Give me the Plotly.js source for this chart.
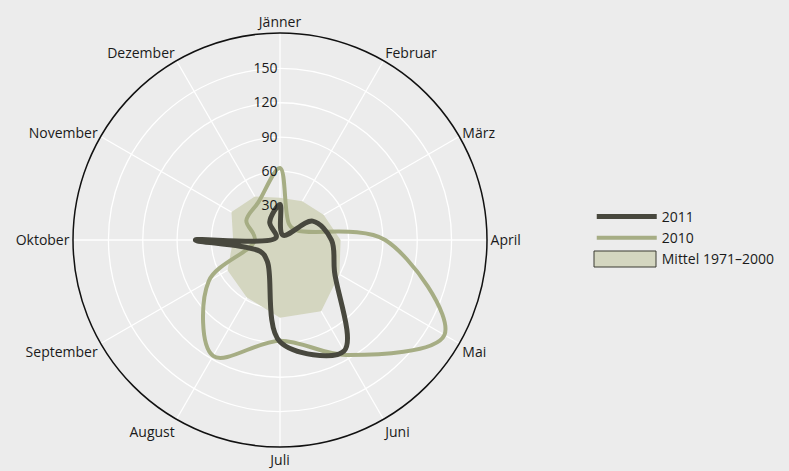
<!DOCTYPE html>
<html>
<head>
<meta charset="utf-8">
<script src="https://cdn.plot.ly/plotly-3.0.1.min.js"></script>
<style>html,body{margin:0;padding:0;background:#ececec;}#chart{width:789px;height:471px;}</style>
</head>
<body>
<div id="chart"></div>
<script>
const months = ["Jänner","Februar","März","April","Mai","Juni","Juli","August","September","Oktober","November","Dezember"];
const radialTicks = [30, 60, 90, 120, 150];
const series2011 = [31, 5, 33, 45, 55, 112, 89, 22, 20, 74, 4, 18];
const series2010 = [63, 16, 17, 92, 166, 116, 88, 117, 72, 22, 34, 38];
const mittel = [37, 39, 44, 53, 60, 72, 68, 58, 53, 41, 49, 44];

const close = a => a.concat([a[0]]);
const thetaClosed = close(months);

const W = 789, H = 471;

const traces = [
  {type:"scatterpolar", r: close(mittel), theta: thetaClosed, mode:"lines", fill:"toself",
   fillcolor:"#d4d6c0", line:{color:"#d4d6c0", width:0}, name:"Mittel 1971–2000", showlegend:false, hoverinfo:"skip"},
  {type:"scatterpolar", r: close(series2010), theta: thetaClosed, mode:"lines",
   line:{color:"#a6ad84", width:4, shape:"spline", smoothing:1}, name:"2010", legendrank:2},
  {type:"scatterpolar", r: close(series2011), theta: thetaClosed, mode:"lines",
   line:{color:"#48483e", width:5, shape:"spline", smoothing:1}, name:"2011", legendrank:1},
  // legend entry only (symbol drawn as a layout shape)
  {type:"scatterpolar", r: mittel.map(() => 0), theta: months, mode:"lines",
   line:{color:"rgba(0,0,0,0)", width:0}, name:"Mittel 1971–2000", legendrank:3, hoverinfo:"skip"}
];

const layout = {
  width: W, height: H,
  paper_bgcolor:"#ececec",
  margin:{l:0,r:0,t:0,b:0},
  font:{family:"Open Sans, sans-serif", size:14, color:"#1a1a1a"},
  showlegend:true,
  legend:{x:0.75, y:0.495, xanchor:"left", yanchor:"middle", traceorder:"normal",
          font:{size:14, color:"#1a1a1a"}, bgcolor:"rgba(0,0,0,0)", itemwidth:60, tracegroupgap:0},
  shapes:[{type:"rect", xref:"paper", yref:"paper",
           x0:594/W, x1:656/W, y0:1-267/H, y1:1-251/H,
           fillcolor:"#d4d6c0", line:{color:"#3a3a32", width:1}}],
  polar:{
    domain:{x:[73/W, 487/W], y:[24/H, 438/H]},
    bgcolor:"#ececec",
    angularaxis:{direction:"clockwise", rotation:90, type:"category", categoryarray: months,
      showline:true, linecolor:"#111", linewidth:1.5, gridcolor:"#ffffff", gridwidth:1.3,
      ticks:"", tickfont:{size:14, color:"#1a1a1a"}},
    radialaxis:{range:[0,181], tickvals: radialTicks, showline:false, ticks:"",
      gridcolor:"#ffffff", gridwidth:1.3, angle:90, side:"counterclockwise", tickangle:90,
      tickfont:{size:14, color:"#1a1a1a"}}
  }
};

Plotly.newPlot("chart", traces, layout, {displayModeBar:false, staticPlot:true});
</script>
</body>
</html>
